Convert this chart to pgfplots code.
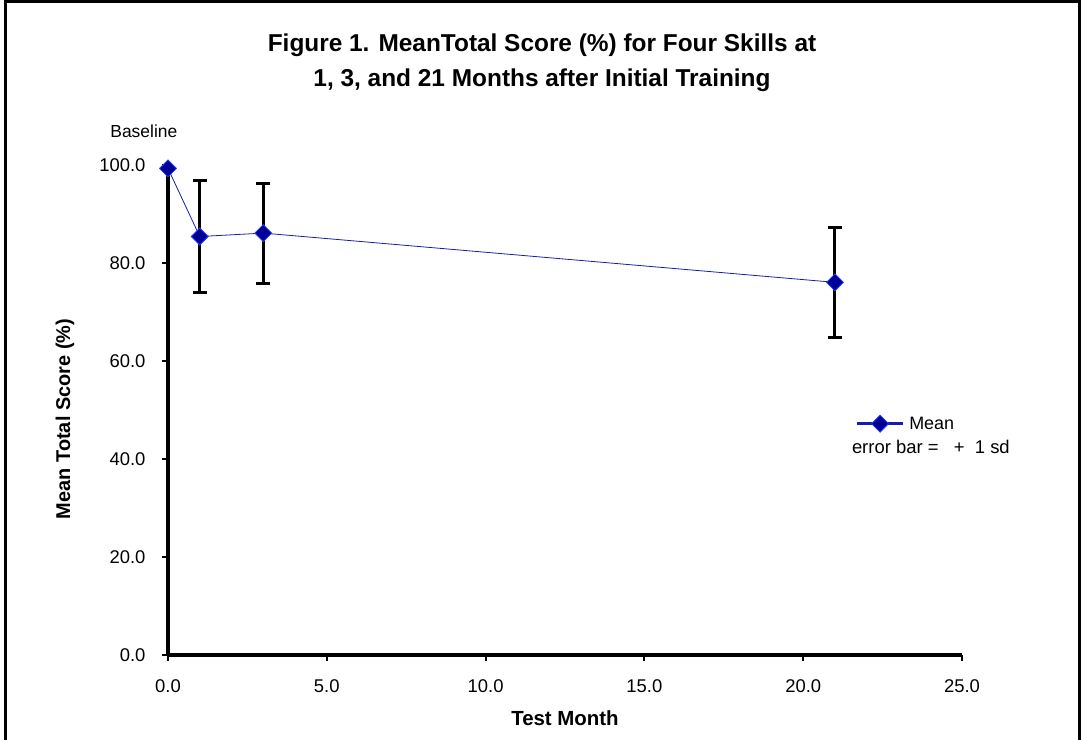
\documentclass[border=0pt]{standalone}
\usepackage{pgfplots}
\pgfplotsset{compat=1.18}
\usepackage{fontspec}
\setmainfont{Liberation Sans}
\definecolor{lineblue}{RGB}{20,30,170}
\definecolor{markfill}{RGB}{0,0,150}
\definecolor{markdraw}{RGB}{40,60,255}
\pgfplotstableread{
x y e
0 99.3 0
1 85.4 11.4
3 86.1 10.2
21 76.05 11.25
}\meandata
\begin{document}
\begin{tikzpicture}
\useasboundingbox (0,0) rectangle (1083bp,740bp);
\draw[line width=3bp] (5bp,0) -- (5bp,738.5bp) -- (1079.5bp,738.5bp) -- (1079.5bp,0);
\node[font=\fontsize{24.5}{35}\selectfont\bfseries, align=center] at (542bp,677.5bp)
  {Figure 1. MeanTotal Score (\%) for Four Skills at\\1, 3, and 21 Months after Initial Training};
\begin{axis}[
  at={(168bp,85bp)}, anchor=south west,
  scale only axis, width=794bp, height=490bp,
  xmin=0, xmax=25, ymin=0, ymax=100,
  axis x line=bottom, axis y line=left,
  axis line style={line width=3.2bp, -},
  xtick={0,5,10,15,20,25}, ytick={0,20,40,60,80,100},
  tick align=outside, major tick length=6bp,
  tick style={line width=2bp, black},
  /pgf/number format/assume math mode=true,
  /pgf/number format/.cd, fixed, fixed zerofill, precision=1, /pgfplots/.cd,
  ticklabel style={font=\fontsize{18.5}{22}\selectfont},
  xticklabel style={yshift=-15bp},
  yticklabel style={xshift=-13bp},
  clip=false,
  legend style={at={(axis cs:21.65,47.2)}, anchor=west, draw=none, fill=none,
    inner sep=0pt, font=\fontsize{18}{21}\selectfont},
  legend image code/.code={%
    \draw[mark repeat=2,mark phase=2,#1,line width=2.5bp]
      plot coordinates {(0bp,0bp) (23bp,0bp) (46bp,0bp)};},
]
\addplot[color=lineblue, line width=0.8bp,
  mark=square*, mark size=6bp,
  mark options={rotate=45, fill=markfill, draw=markdraw, line width=0.8bp, solid},
  error bars/.cd, y dir=both, y explicit,
  error bar style={line width=3bp, black},
  error mark options={rotate=90, mark size=7bp, line width=3bp, black}]
  table[x=x, y=y, y error=e] {\meandata};
\addlegendentry{\hspace{3bp}Mean}
\node[font=\fontsize{18.5}{22}\selectfont] at (axis cs:24.02,42.5) {error bar =\ \ \ + \ 1 sd};
\node[font=\fontsize{17.5}{20}\selectfont] at (axis cs:-0.76,106.8) {Baseline};
\end{axis}
\node[font=\fontsize{20}{24}\selectfont\bfseries, rotate=90] at (65bp,321bp) {Mean Total Score (\%)};
\node[font=\fontsize{20.5}{24}\selectfont\bfseries] at (565bp,22bp) {Test Month};
\end{tikzpicture}
\end{document}
